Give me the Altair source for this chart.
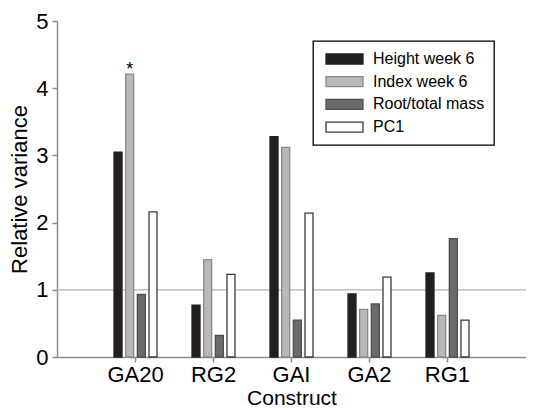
import altair as alt
import pandas as pd

constructs = ["GA20", "RG2", "GAI", "GA2", "RG1"]
series = ["Height week 6", "Index week 6", "Root/total mass", "PC1"]
height_w6 = [3.05, 0.77, 3.28, 0.94, 1.25]
index_w6 = [4.21, 1.45, 3.12, 0.71, 0.62]
root_mass = [0.93, 0.32, 0.55, 0.79, 1.76]
pc1 = [2.16, 1.23, 2.14, 1.19, 0.55]
y_ticks = [0, 1, 2, 3, 4, 5]
ref_value = [1]
marker_construct = "GA20"
marker_series = "Index week 6"
marker_text = "*"

fills = ["#231f20", "#b9b9b9", "#6b6b6b", "#ffffff"]
strokes = ["#231f20", "#8a8a8a", "#4f4f4f", "#3a3a3a"]
FONT = "Liberation Sans"

rows = []
for s, vals in zip(series, [height_w6, index_w6, root_mass, pc1]):
    for c, v in zip(constructs, vals):
        rows.append({
            "Construct": c,
            "Series": s,
            "Value": v,
            "Mark": marker_text if (c == marker_construct and s == marker_series) else "",
        })
df = pd.DataFrame(rows)

legend_cfg = alt.Legend(
    title=None,
    orient="none",
    legendX=256,
    legendY=20,
    padding=9,
    strokeColor="black",
    fillColor="white",
    symbolType="M-0.625,-0.625H4V0.625H-0.625Z",
    symbolSize=256,
    symbolStrokeWidth=1.3,
    labelOffset=33,
    rowPadding=5.7,
    labelFontSize=16,
    labelFont=FONT,
    labelColor="black",
)

x_enc = alt.X(
    "Construct:N",
    sort=constructs,
    scale=alt.Scale(paddingInner=0.449, paddingOuter=0.731, align=0.5),
    axis=alt.Axis(
        title="Construct",
        labelAngle=0,
        tickSize=5,
        labelPadding=2,
        titlePadding=2,
        titleFontSize=21,
    ),
)
xoff_enc = alt.XOffset(
    "Series:N", sort=series, scale=alt.Scale(paddingInner=0.314, paddingOuter=0)
)
y_enc = alt.Y(
    "Value:Q",
    scale=alt.Scale(domain=[0, 5], nice=False),
    axis=alt.Axis(
        title="Relative variance",
        values=y_ticks,
        format="d",
        tickSize=5,
        labelPadding=4,
        titlePadding=4,
    ),
)

rule = alt.Chart(pd.DataFrame({"y": ref_value})).mark_rule(
    color="#b3b3b3", strokeWidth=1.2
).encode(y=alt.Y("y:Q"))

bars = alt.Chart(df).mark_bar(strokeWidth=1.3, opacity=1).encode(
    x=x_enc,
    xOffset=xoff_enc,
    y=y_enc,
    color=alt.Color(
        "Series:N", sort=series,
        scale=alt.Scale(domain=series, range=fills),
        legend=legend_cfg,
    ),
    stroke=alt.Stroke(
        "Series:N", sort=series,
        scale=alt.Scale(domain=series, range=strokes),
        legend=legend_cfg,
    ),
)

text = alt.Chart(df).mark_text(
    fontSize=18, font=FONT, color="black", baseline="alphabetic", dy=1
).encode(
    x=x_enc,
    xOffset=xoff_enc,
    y=y_enc,
    text="Mark:N",
)

chart = alt.layer(rule, bars, text).properties(
    width=469,
    height=336,
    autosize=alt.AutoSizeParams(type="none"),
    padding={"left": 49, "top": 13, "right": 0, "bottom": 52},
).configure_view(stroke=None).configure_axis(
    grid=False,
    domainColor="#8c8c8c",
    domainWidth=1.5,
    tickColor="#8c8c8c",
    tickWidth=1.5,
    labelColor="black",
    titleColor="black",
    labelFont=FONT,
    titleFont=FONT,
    labelFontSize=22,
    titleFontSize=22,
    titleFontWeight="normal",
).configure_legend(strokeWidth=1.3)

chart.save("out.html", embed_options={"renderer": "svg", "actions": False})
